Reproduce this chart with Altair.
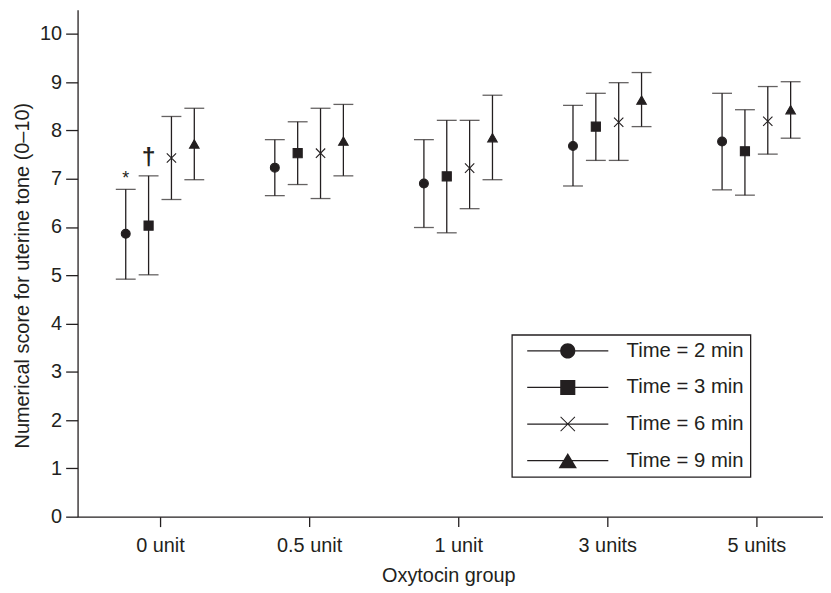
import json
import altair as alt
import pandas as pd

# ---------------- data ----------------
groups = ["0 unit", "0.5 unit", "1 unit", "3 units", "5 units"]
series = ["Time = 2 min", "Time = 3 min", "Time = 6 min", "Time = 9 min"]

mean_t2 = [5.86, 7.23, 6.90, 7.68, 7.77]
mean_t3 = [6.03, 7.53, 7.05, 8.08, 7.57]
mean_t6 = [7.43, 7.53, 7.22, 8.17, 8.19]
mean_t9 = [7.72, 7.78, 7.85, 8.63, 8.43]

upper_t2 = [6.78, 7.81, 7.81, 8.52, 8.77]
upper_t3 = [7.06, 8.18, 8.21, 8.77, 8.43]
upper_t6 = [8.29, 8.46, 8.21, 8.99, 8.91]
upper_t9 = [8.46, 8.54, 8.73, 9.20, 9.01]

lower_t2 = [4.92, 6.65, 5.99, 6.85, 6.77]
lower_t3 = [5.01, 6.88, 5.88, 7.38, 6.66]
lower_t6 = [6.57, 6.59, 6.38, 7.38, 7.51]
lower_t9 = [6.98, 7.06, 6.98, 8.08, 7.84]

ann_text = ["*", "\u2020"]
ann_group = [0, 0]
ann_series = [0, 1]

means = [mean_t2, mean_t3, mean_t6, mean_t9]
uppers = [upper_t2, upper_t3, upper_t6, upper_t9]
lowers = [lower_t2, lower_t3, lower_t6, lower_t9]

rows = []
for si, s in enumerate(series):
    for gi, g in enumerate(groups):
        rows.append({"group": g, "series": s, "gi": gi, "si": si,
                     "mean": means[si][gi], "hi": uppers[si][gi], "lo": lowers[si][gi]})
df = pd.DataFrame(rows)

ann = pd.DataFrame({
    "text": ann_text,
    "gi": ann_group,
    "si": ann_series,
    "y": [uppers[s][g] for s, g in zip(ann_series, ann_group)],
})

# ---------------- style ----------------
INK = "#231f20"
FONT = "Liberation Sans"
YTITLE = "Numerical score for uterine tone (0\u201310)"
XTITLE = "Oxytocin group"

xscale = alt.Scale(domain=[-0.553, 4.447], nice=False, zero=False)
xaxis = alt.Axis(values=[0, 1, 2, 3, 4],
                 labelExpr=json.dumps(groups) + "[round(datum.value)]",
                 tickSize=10, labelPadding=9, grid=False,
                 titleX=373, titleY=65.7, titleBaseline="alphabetic",
                 titleAnchor="middle", titleAlign="center")
yscale = alt.Scale(domain=[0, 10.5], nice=False, zero=False)
yaxis = alt.Axis(values=list(range(11)), tickSize=12, labelPadding=4, grid=False,
                 titleX=-49, titleY=267, titleAngle=-90, titleBaseline="alphabetic",
                 titleAlign="center")

XPOS = "datum.gi + (datum.si - 1.5) * 0.1533"


def xenc():
    return alt.X("xpos:Q", scale=xscale, axis=xaxis, title=XTITLE)


def yenc(field):
    return alt.Y(field, scale=yscale, axis=yaxis, title=YTITLE)


base = alt.Chart(df).transform_calculate(xpos=XPOS)

rules = base.mark_rule(color=INK, strokeWidth=1.3).encode(
    x=xenc(), y=yenc("lo:Q"), y2="hi:Q")
cap_hi = base.mark_tick(orient="horizontal", size=20, thickness=1.3, color=INK).encode(
    x=xenc(), y=yenc("hi:Q"))
cap_lo = base.mark_tick(orient="horizontal", size=20, thickness=1.3, color=INK).encode(
    x=xenc(), y=yenc("lo:Q"))

pt_shapes = ["circle", "square", "M-1,-1L1,1M-1,1L1,-1", "triangle-up"]
points = base.mark_point(filled=True, fill=INK, stroke=INK, strokeWidth=1.1, opacity=1).encode(
    x=xenc(), y=yenc("mean:Q"),
    shape=alt.Shape("series:N", scale=alt.Scale(domain=series, range=pt_shapes), legend=None),
    size=alt.Size("series:N", scale=alt.Scale(domain=series, range=[80, 92, 100, 75]), legend=None),
)

# legend glyphs: line + marker, all as filled outlines (clockwise)
LINE = "M-5.1,-0.075H5.1V0.075H-5.1Z"
leg_shapes = [
    LINE + "M0.95,0A0.95,0.95 0 1 1 -0.95,0A0.95,0.95 0 1 1 0.95,0Z",
    LINE + "M-0.95,-0.95H0.95V0.95H-0.95Z",
    LINE + "M-0.858,-0.942L0.942,0.858L0.858,0.942L-0.942,-0.858Z"
           "M-0.942,0.858L0.858,-0.942L0.942,-0.858L-0.858,0.942Z",
    LINE + "M0,-0.95L1.15,0.95H-1.15Z",
]
legend_layer = base.transform_filter("datum.gi < 0").mark_point(
    filled=True, fill=INK, strokeWidth=0, opacity=1).encode(
    x=xenc(), y=yenc("mean:Q"),
    shape=alt.Shape("series:N", scale=alt.Scale(domain=series, range=leg_shapes),
                    legend=alt.Legend(
                        title=None, orient="none", legendX=437, legendY=327,
                        direction="vertical",
                        padding=6, strokeColor=INK,
                        symbolSize=256, symbolOffset=40, labelOffset=49,
                        symbolFillColor=INK, symbolStrokeWidth=0,
                        symbolOpacity=1,
                        labelFontSize=20.4, labelFont=FONT, labelColor=INK,
                        rowPadding=15.8, labelLimit=300)),
)

abase = alt.Chart(ann).transform_calculate(xpos=XPOS)
star = abase.transform_filter("datum.text == '*'").mark_text(
    fontSize=18, font=FONT, color=INK, baseline="alphabetic", dy=-5).encode(
    x=xenc(), y=yenc("y:Q"), text="text:N")
dagger = abase.transform_filter("datum.text != '*'").mark_text(
    fontSize=25, font=FONT, color=INK, baseline="alphabetic", dy=-11, fontWeight="bold").encode(
    x=xenc(), y=yenc("y:Q"), text="text:N")

chart = alt.layer(rules, cap_hi, cap_lo, points, legend_layer, star, dagger).resolve_scale(
    shape="independent", size="independent"
).properties(
    width=750, height=510,
    background="white",
    autosize=alt.AutoSizeParams(type="none"),
    padding={"left": 70, "top": 0, "right": 0, "bottom": 75},
).configure_view(stroke=None).configure_axis(
    domainColor=INK, domainWidth=1.3, tickColor=INK, tickWidth=1.3,
    labelFont=FONT, labelFontSize=20, labelColor=INK,
    titleFont=FONT, titleFontSize=20, titleFontWeight="normal", titleColor=INK,
).configure_legend(strokeWidth=1.3)

chart.save("out.html", embed_options={"renderer": "svg", "actions": False})
